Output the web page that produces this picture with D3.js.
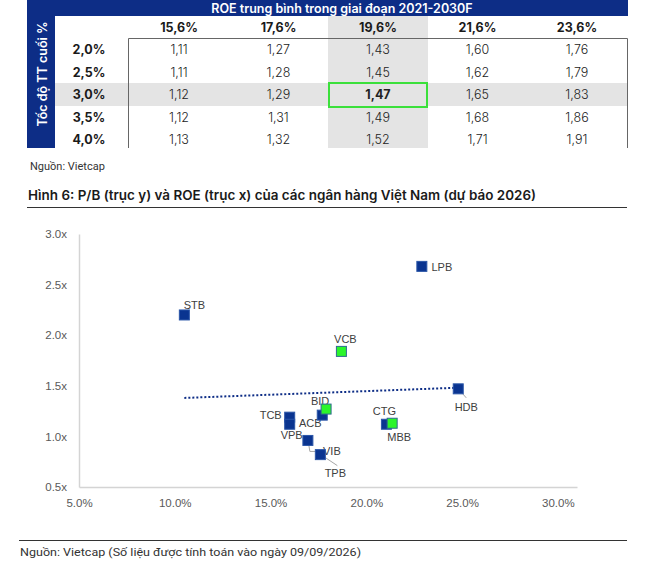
<html>
<head>
<script src="https://cdnjs.cloudflare.com/ajax/libs/d3/7.8.5/d3.min.js" charset="utf-8"></script>
<style type="text/css">
body { margin: 0; background: #fff; }
</style>
</head>
<body>
<div id="chart"></div>
<script type="text/javascript">
// bang do nhay P/B
var roeCols = ["15,6%", "17,6%", "19,6%", "21,6%", "23,6%"];
var growthRows = ["2,0%", "2,5%", "3,0%", "3,5%", "4,0%"];
var pbTable = [
  ["1,11", "1,27", "1,43", "1,60", "1,76"],
  ["1,11", "1,28", "1,45", "1,62", "1,79"],
  ["1,12", "1,29", "1,47", "1,65", "1,83"],
  ["1,12", "1,31", "1,49", "1,68", "1,86"],
  ["1,13", "1,32", "1,52", "1,71", "1,91"]
];
var baseCol = "19,6%", baseRow = "3,0%";

// scatter P/B vs ROE 2026
var banks = ["LPB", "STB", "VCB", "HDB", "ACB", "BID", "TCB", "VPB", "VIB", "TPB", "CTG", "MBB"];
var roe = [22.9, 10.5, 18.7, 24.8, 17.7, 17.9, 16.0, 16.0, 16.95, 17.6, 21.05, 21.35];
var pb = [2.68, 2.20, 1.84, 1.47, 1.21, 1.27, 1.19, 1.12, 0.96, 0.82, 1.12, 1.13];
var stateBanks = ["VCB", "BID", "MBB"];
var trendRoe = [10.5, 24.6];
var trendPb = [1.38, 1.48];
var xTicks = [5, 10, 15, 20, 25, 30];
var yTicks = [0.5, 1.0, 1.5, 2.0, 2.5, 3.0];

var navy = "#0d2d86";
var W = 662, H = 578;

var svg = d3.select("#chart").append("svg")
  .attr("width", W).attr("height", H);

// ---------- table ----------
var tFont = "Inter, 'Noto Sans', sans-serif";
var colX = d3.scalePoint().domain(roeCols).range([179, 577]);
var rowY = d3.scalePoint().domain(growthRows).range([49.5, 139.5]);

// grey column and row shading
svg.append("rect").attr("x", colX(baseCol) - 50).attr("y", 16)
  .attr("width", 100).attr("height", 132).attr("fill", "#e4e4e4");
svg.append("rect").attr("x", 55).attr("y", rowY(baseRow) - 11.5)
  .attr("width", 573).attr("height", 23).attr("fill", "#e4e4e4");

// navy bands
svg.append("rect").attr("x", 27).attr("y", 0).attr("width", 28).attr("height", 148).attr("fill", navy);
svg.append("rect").attr("x", 55).attr("y", 0).attr("width", 573).attr("height", 16).attr("fill", navy);

svg.append("text").attr("x", 342).attr("y", 8.5)
  .attr("text-anchor", "middle").attr("dominant-baseline", "central")
  .style("font-family", tFont).style("font-size", "12.5px").style("font-weight", 600)
  .attr("fill", "#fff").text("ROE trung bình trong giai đoạn 2021-2030F");

svg.append("text").attr("transform", "translate(42,74) rotate(-90)")
  .attr("text-anchor", "middle").attr("dominant-baseline", "central")
  .style("font-family", tFont).style("font-size", "12.5px").style("font-weight", 600)
  .attr("fill", "#fff").text("Tốc độ TT cuối %");

// table borders
svg.append("path").attr("d", "M128.5,148V38.5H627.5V148")
  .attr("fill", "none").attr("stroke", "#666").attr("stroke-width", 1);

svg.selectAll(".colhead").data(roeCols).enter().append("text")
  .attr("class", "colhead")
  .attr("x", function(d) { return colX(d); }).attr("y", 27)
  .attr("text-anchor", "middle").attr("dominant-baseline", "central")
  .style("font-family", tFont).style("font-size", "12.5px").style("font-weight", 700)
  .attr("fill", "#1a1a1a").text(function(d) { return d; });

svg.selectAll(".rowhead").data(growthRows).enter().append("text")
  .attr("class", "rowhead")
  .attr("x", 89).attr("y", function(d) { return rowY(d); })
  .attr("text-anchor", "middle").attr("dominant-baseline", "central")
  .style("font-family", tFont).style("font-size", "12.5px").style("font-weight", 700)
  .attr("fill", "#1a1a1a").text(function(d) { return d; });

var cells = [];
pbTable.forEach(function(row, i) {
  row.forEach(function(v, j) {
    cells.push({ r: growthRows[i], c: roeCols[j], v: v });
  });
});
svg.selectAll(".cell").data(cells).enter().append("text")
  .attr("class", "cell")
  .attr("x", function(d) { return colX(d.c); })
  .attr("y", function(d) { return rowY(d.r); })
  .attr("text-anchor", "middle").attr("dominant-baseline", "central")
  .style("font-family", tFont).style("font-size", "12.5px")
  .style("font-weight", function(d) { return (d.r == baseRow && d.c == baseCol) ? 700 : 300; })
  .attr("fill", "#222").text(function(d) { return d.v; });

// green box round base case
svg.append("rect").attr("x", colX(baseCol) - 49).attr("y", rowY(baseRow) - 11.5)
  .attr("width", 98).attr("height", 24)
  .attr("fill", "none").attr("stroke", "#3be03b").attr("stroke-width", 2);

// ---------- texts ----------
var sFont = "Roboto, 'Liberation Sans', sans-serif";
svg.append("text").attr("x", 30).attr("y", 170)
  .style("font-family", sFont).style("font-size", "11px").attr("fill", "#333")
  .text("Nguồn: Vietcap");

svg.append("text").attr("x", 28).attr("y", 200)
  .attr("textLength", 508).attr("lengthAdjust", "spacingAndGlyphs")
  .style("font-family", tFont).style("font-size", "13px").style("font-weight", 600)
  .attr("fill", "#1a1a1a")
  .text("Hình 6: P/B (trục y) và ROE (trục x) của các ngân hàng Việt Nam (dự báo 2026)");
svg.append("line").attr("x1", 27).attr("x2", 627).attr("y1", 207.5).attr("y2", 207.5)
  .attr("stroke", "#333").attr("stroke-width", 1);

svg.append("line").attr("x1", 19).attr("x2", 627).attr("y1", 540.5).attr("y2", 540.5)
  .attr("stroke", "#333").attr("stroke-width", 1);
svg.append("text").attr("x", 20).attr("y", 556)
  .attr("textLength", 341).attr("lengthAdjust", "spacingAndGlyphs")
  .style("font-family", sFont).style("font-size", "11px").attr("fill", "#333")
  .text("Nguồn: Vietcap (Số liệu được tính toán vào ngày 09/09/2026)");

// ---------- scatter ----------
var cFont = "'Liberation Sans', Arial, sans-serif";
var x = d3.scaleLinear().domain([5, 31]).range([79, 577]);
var y = d3.scaleLinear().domain([0.5, 3.0]).range([487, 234]);

var yAxis = svg.append("g").attr("transform", "translate(79,0)")
  .call(d3.axisLeft(y).tickValues(yTicks).tickSize(0).tickPadding(12)
    .tickFormat(function(d) { return d.toFixed(1) + "x"; }));
var xAxis = svg.append("g").attr("transform", "translate(0,487)")
  .call(d3.axisBottom(x).tickValues(xTicks).tickSize(0).tickPadding(12)
    .tickFormat(function(d) { return d.toFixed(1) + "%"; }));
[xAxis, yAxis].forEach(function(a) {
  a.select(".domain").attr("stroke", "#d4d4d4").attr("stroke-width", 1.5);
  a.selectAll("text").style("font-family", cFont).style("font-size", "11.5px").attr("fill", "#595959");
});

// trend line
svg.append("line")
  .attr("x1", x(trendRoe[0])).attr("y1", y(trendPb[0]))
  .attr("x2", x(trendRoe[1])).attr("y2", y(trendPb[1]))
  .attr("stroke", navy).attr("stroke-width", 2).attr("stroke-dasharray", "2,2");

var pts = banks.map(function(b, i) { return { name: b, roe: roe[i], pb: pb[i] }; });

// label placement (offset from marker, pixels)
var labelOff = {
  LPB: [20, 1], STB: [10, -10], VCB: [4, -12], HDB: [8, 18], ACB: [-12, 8], BID: [-6, -8],
  TCB: [-19, -2], VPB: [2, 11], VIB: [24, 11], TPB: [15, 18], CTG: [-2, -13], MBB: [7, 14]
};
// leader lines
var leaders = {
  HDB: [[1, 1], [8, 9]],
  VIB: [[1, 5], [2, 11], [10, 11]],
  TPB: [[5, 3], [17, 11]]
};

svg.selectAll(".leader").data(pts.filter(function(d) { return leaders[d.name]; }))
  .enter().append("polyline").attr("class", "leader")
  .attr("points", function(d) {
    return leaders[d.name].map(function(p) { return [x(d.roe) + p[0], y(d.pb) + p[1]].join(","); }).join(" ");
  })
  .attr("fill", "none").attr("stroke", "#a6a6a6").attr("stroke-width", 1);

svg.selectAll(".lbl").data(pts).enter().append("text").attr("class", "lbl")
  .attr("x", function(d) { return x(d.roe) + labelOff[d.name][0]; })
  .attr("y", function(d) { return y(d.pb) + labelOff[d.name][1]; })
  .attr("text-anchor", "middle").attr("dominant-baseline", "central")
  .style("font-family", cFont).style("font-size", "11px").attr("fill", "#404040")
  .text(function(d) { return d.name; });

var ordered = pts.filter(function(d) { return stateBanks.indexOf(d.name) < 0; })
  .concat(pts.filter(function(d) { return stateBanks.indexOf(d.name) >= 0; }));
svg.selectAll(".mk").data(ordered).enter().append("rect").attr("class", "mk")
  .attr("x", function(d) { return x(d.roe) - 5; })
  .attr("y", function(d) { return y(d.pb) - 5; })
  .attr("width", 10).attr("height", 10)
  .attr("fill", function(d) { return stateBanks.indexOf(d.name) >= 0 ? "#2bf52b" : "#0a3490"; })
  .attr("stroke", function(d) { return stateBanks.indexOf(d.name) >= 0 ? "#2f6a8f" : "#2b56a8"; })
  .attr("stroke-width", 1);
</script>
</body>
</html>
